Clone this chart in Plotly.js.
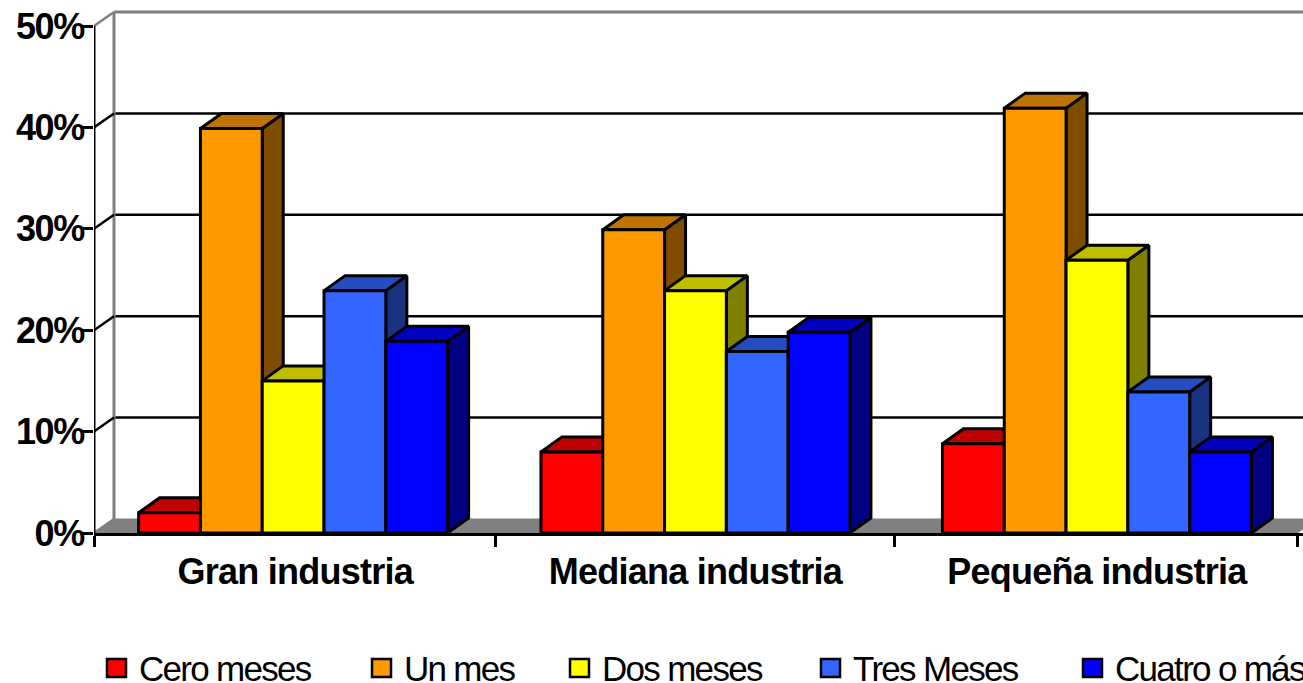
<!DOCTYPE html>
<html>
<head>
<meta charset="utf-8">
<script src="https://cdn.plot.ly/plotly-3.0.1.min.js"></script>
<style>
html,body{margin:0;padding:0;background:#fff;overflow:hidden}
#chart{width:1303px;height:683px}
.x2tick text{letter-spacing:-0.75px}
.ytick text{letter-spacing:-1.4px}
.annotation-text{letter-spacing:-1.7px}
</style>
</head>
<body>
<div id="chart"></div>
<script>
const categories = ['Gran industria', 'Mediana industria', 'Pequeña industria'];
const seriesNames = ['Cero meses', 'Un mes', 'Dos meses', 'Tres Meses', 'Cuatro o más'];
const ceroMeses = [2, 8, 8.8];
const unMes = [39.9, 29.9, 41.9];
const dosMeses = [15, 23.9, 26.9];
const tresMeses = [23.9, 17.9, 13.9];
const cuatroOMas = [18.9, 19.8, 8];
const frontColors = ['#FF0000', '#FF9900', '#FFFF00', '#3366FF', '#0000FF'];
const topColors = ['#BF0000', '#BF7300', '#BFBF00', '#264DBF', '#0000BF'];
const sideColors = ['#800000', '#804D00', '#808000', '#1A3380', '#000080'];
const yTicks = [0, 10, 20, 30, 40, 50];
const yTickLabels = ['0%', '10%', '20%', '30%', '40%', '50%'];
const categoryCenters = [0.496, 1.498, 2.498];
const labelCenters = [0.501, 1.498, 2.498];
const categoryEdges = [0, 0.999, 1.995, 2.997];

const allSeries = [ceroMeses, unMes, dosMeses, tresMeses, cuatroOMas];
const W = 1303, H = 683, L = 94, B = 150;
const xUnit = 401.5, yUnit = 10.14;
const xRange = [0, (W - L) / xUnit];
const yRange = [0, (H - B) / yUnit];
const dx = 21 / xUnit, dy = 14 / yUnit, barDy = 15 / yUnit, wallDx = 20 / xUnit;
const barW = 61.8 / xUnit;
const floorEnd = categoryEdges[3];

const traces = [];
function poly(xs, ys, fill, lineColor, lw) {
  traces.push({type: 'scatter', mode: 'lines', x: xs, y: ys, fill: 'toself', fillcolor: fill,
    line: {color: lineColor, width: lw}, hoverinfo: 'skip', showlegend: false, xaxis: 'x', yaxis: 'y'});
}
function seg(xs, ys, color, lw) {
  traces.push({type: 'scatter', mode: 'lines', x: xs, y: ys, cliponaxis: false,
    line: {color: color, width: lw}, hoverinfo: 'skip', showlegend: false, xaxis: 'x', yaxis: 'y'});
}
// floor
poly([0, wallDx, floorEnd + wallDx, floorEnd, 0], [0, dy, dy, 0, 0], '#808080', '#808080', 1);
// walls and gridlines
yTicks.forEach(t => {
  const top = t === 50, c = top ? '#808080' : '#000000';
  if (t > 0) {
    traces.push({type: 'scatter', mode: 'lines', x: [wallDx, xRange[1]], y: [t + dy, t + dy],
      line: {color: c, width: top ? 3 : 2.5}, hoverinfo: 'skip', showlegend: false, xaxis: 'x', yaxis: 'y'});
  }
});
seg([wallDx, wallDx], [dy, 50 + dy], '#808080', 3);
yTicks.forEach(t => {
  const c = (t === 50 || t === 0) ? '#808080' : '#000000';
  seg([0, wallDx], [t, t + dy], c, 2.5);
});
// value axis line stops at the top tick
seg([0, 0], [0, 50], '#000000', 3);
// tops and sides, drawn left to right so nearer faces cover farther ones
categories.forEach((_, c) => {
  allSeries.forEach((vals, s) => {
    const x0 = categoryCenters[c] + (s - 2.5) * barW, x1 = x0 + barW, v = vals[c];
    poly([x1, x1 + dx, x1 + dx, x1, x1], [0, barDy, v + barDy, v, 0], sideColors[s], '#000000', 3);
    poly([x0, x0 + dx, x1 + dx, x1, x0], [v, v + barDy, v + barDy, v, v], topColors[s], '#000000', 3);
  });
});
// front faces
allSeries.forEach((vals, s) => {
  traces.push({type: 'bar', name: seriesNames[s], x: categoryCenters, y: vals,
    marker: {color: frontColors[s], line: {color: '#000000', width: 3}},
    showlegend: false, hovertemplate: '%{y}%<extra>' + seriesNames[s] + '</extra>',
    xaxis: 'x2', yaxis: 'y2'});
});

const legendSwatchX = [107, 372, 570, 821, 1083];
const legendTextX = [138, 403, 601, 852, 1114];
const px = v => (v - L) / (W - L);
const pyy = v => (H - B - v) / (H - B);
const shapes = seriesNames.map((n, s) => ({type: 'rect', xref: 'paper', yref: 'paper',
  x0: px(legendSwatchX[s]), x1: px(legendSwatchX[s] + 19), y0: pyy(659), y1: pyy(677),
  fillcolor: frontColors[s], line: {color: '#000000', width: 2.5}}));
const annotations = seriesNames.map((n, s) => ({xref: 'paper', yref: 'paper', showarrow: false,
  x: px(legendTextX[s]), y: pyy(668), xanchor: 'left', yanchor: 'middle', align: 'left', text: n,
  borderpad: 0, font: {family: 'Liberation Sans', size: 35, color: '#000'}}));

const tickFont = {family: 'Liberation Sans', size: 36, color: '#000', weight: 700};
const layout = {
  width: W, height: H, margin: {l: L, r: 0, t: 0, b: B, pad: 0},
  paper_bgcolor: '#fff', plot_bgcolor: '#fff', showlegend: false,
  barmode: 'group', bargap: 1 - 5 * barW, bargroupgap: 0,
  xaxis: {type: 'linear', range: xRange, tickmode: 'array', tickvals: categoryEdges,
    ticktext: categoryEdges.map(() => ''), ticks: 'outside', ticklen: 11, tickwidth: 2.5, tickcolor: '#000',
    showgrid: false, zeroline: false, showline: true, linecolor: '#000', linewidth: 3},
  yaxis: {range: yRange, tickmode: 'array', tickvals: yTicks, ticktext: yTickLabels,
    ticks: 'outside', ticklen: 10, tickwidth: 2.5, tickcolor: '#000', tickfont: tickFont, ticklabelstandoff: -8,
    showgrid: false, zeroline: false, showline: false},
  xaxis2: {type: 'linear', overlaying: 'x', anchor: 'y2', side: 'bottom', range: xRange, tickmode: 'array',
    tickvals: labelCenters, ticktext: categories, ticks: '', tickfont: tickFont, tickangle: 0, ticklabelstandoff: 14,
    showgrid: false, zeroline: false, showline: false},
  yaxis2: {overlaying: 'y', anchor: 'x2', range: yRange, visible: false, showgrid: false, zeroline: false},
  shapes, annotations
};
Plotly.newPlot('chart', traces, layout, {displayModeBar: false, responsive: false});
</script>
</body>
</html>
